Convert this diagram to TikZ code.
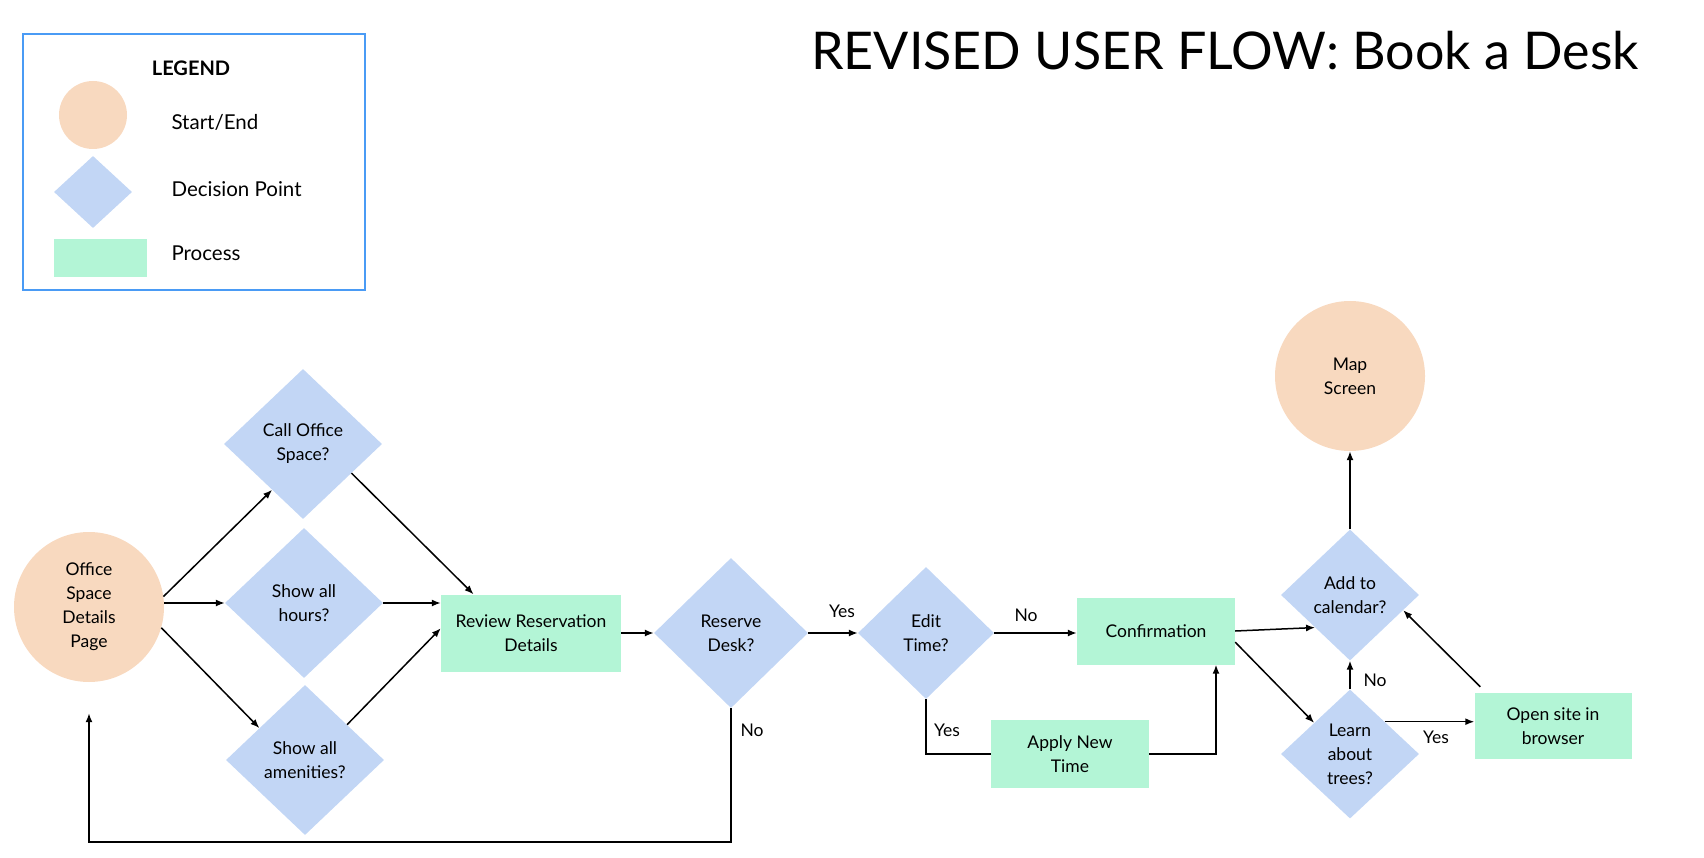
\documentclass[tikz,border=0pt]{standalone}
\usepackage{fontspec}
\setmainfont{Lato}
\usepackage{tikz}
\usetikzlibrary{shapes.geometric}
\usetikzlibrary{arrows.meta}
\usetikzlibrary{calc}
\definecolor{peach}{RGB}{248,217,191}
\definecolor{bluish}{RGB}{194,214,245}
\definecolor{mint}{RGB}{179,245,214}
\definecolor{legendblue}{RGB}{74,155,245}
\newcommand{\flowfont}{\fontsize{17.5}{24}\selectfont}

\begin{document}
\begin{tikzpicture}[x=1pt,y=-1pt,
terminal/.style={shape=circle,fill=peach,minimum size=150pt,inner sep=0pt,align=center,font=\flowfont},
decision/.style={shape=diamond,fill=bluish,minimum width=158pt,minimum height=150pt,inner sep=0pt,align=center,font=\flowfont},
process/.style={shape=rectangle,fill=mint,minimum width=158pt,minimum height=68pt,inner sep=0pt,align=center,font=\flowfont},
legendtext/.style={anchor=base west,font=\fontsize{20.5}{24}\selectfont},
answer/.style={font=\flowfont},
wire/.style={line width=1.5pt},
flow/.style={wire,-{Latex[length=9pt,width=7pt]}}]
\useasboundingbox (0,0) rectangle (1704,858);
\draw (194,162) node (legend) [shape=rectangle,draw=legendblue,line width=1.5pt,minimum width=342pt,minimum height=256pt] {};
\draw (191,68) node (legendtitle) [font=\bfseries\fontsize{20}{24}\selectfont] {LEGEND};
\draw (93,115) node (legstart) [terminal,minimum size=68pt] {};
\draw (93,192) node (legdecision) [decision,minimum width=78pt,minimum height=72pt] {};
\draw (100.5,258) node (legprocess) [process,minimum width=93pt,minimum height=38pt] {};
\draw (168,130) node (legstarttext) [legendtext] {Start/End};
\draw (168,197) node (legdecisiontext) [legendtext] {Decision Point};
\draw (168,261) node (legprocesstext) [legendtext] {Process};
\draw (1225,70) node (title) [anchor=base,font=\fontsize{52}{60}\selectfont] {REVISED USER FLOW: Book a Desk};
\draw (89,607) node (office) [terminal] {Office\\Space\\Details\\Page};
\draw (303,444) node (callspace) [decision] {Call Office\\Space?};
\draw (304,603) node (hours) [decision] {Show all\\hours?};
\draw (305,760) node (amenities) [decision] {Show all\\amenities?};
\draw (531,633) node (review) [process,minimum width=180pt,minimum height=77pt] {Review Reservation\\Details};
\draw (731,633) node (reserve) [decision,minimum width=154pt] {Reserve\\Desk?};
\draw (926,633) node (edittime) [decision,minimum width=136pt,minimum height=132pt] {Edit\\Time?};
\draw (1156,631) node (confirm) [process,minimum height=67pt] {Confirmation};
\draw (1070,754) node (apply) [process] {Apply New\\Time};
\draw (1350,595) node (calendar) [decision,minimum width=138pt,minimum height=131pt] {Add to\\calendar?};
\draw (1350,376) node (map) [terminal] {Map\\Screen};
\draw (1350,754) node (trees) [decision,minimum width=138pt,minimum height=129pt] {Learn\\about\\trees?};
\draw (1553,726) node (browser) [process,minimum width=157pt,minimum height=66pt] {Open site in\\browser};
\draw [flow] (office.8) -- (callspace.-124);
\draw [flow] (hours.west -| office.east) -- (hours.west);
\draw [flow] (office.-16) -- (amenities.145);
\draw [flow] (callspace.-31) -- (review.146);
\draw [flow] (hours.east) -- (hours.east -| review.west);
\draw [flow] (amenities.40) -- (review.177);
\draw [flow] (review.east) -- (reserve.west);
\draw [flow] (reserve.east) -- (edittime.west);
\draw [flow] (edittime.east) -- (edittime.east -| confirm.west);
\draw [wire] (edittime.south) |- (apply.west);
\draw [flow] (apply.east) -| ([xshift=60pt]confirm.south);
\draw [flow] (confirm.east) -- (calendar.-137);
\draw [flow] (confirm.-8) -- (trees.139);
\draw [flow] (trees.north) -- (calendar.south);
\draw [flow] (trees.43) -- (trees.43 -| browser.west);
\draw [flow] ([xshift=6pt,yshift=6pt]browser.north west) -- (calendar.-16);
\draw [flow] (calendar.north) -- (map.south);
\draw [flow] (reserve.south) -- ++(0,134) -| ([yshift=-31pt]office.south);
\draw (752,730) node (reserveno) [answer] {No};
\draw (842,611) node (reserveyes) [answer] {Yes};
\draw (1026,615) node (editno) [answer] {No};
\draw (947,730) node (edityes) [answer] {Yes};
\draw (1375,680) node (treesno) [answer] {No};
\draw (1436,737) node (treesyes) [answer] {Yes};
\end{tikzpicture}
\end{document}
